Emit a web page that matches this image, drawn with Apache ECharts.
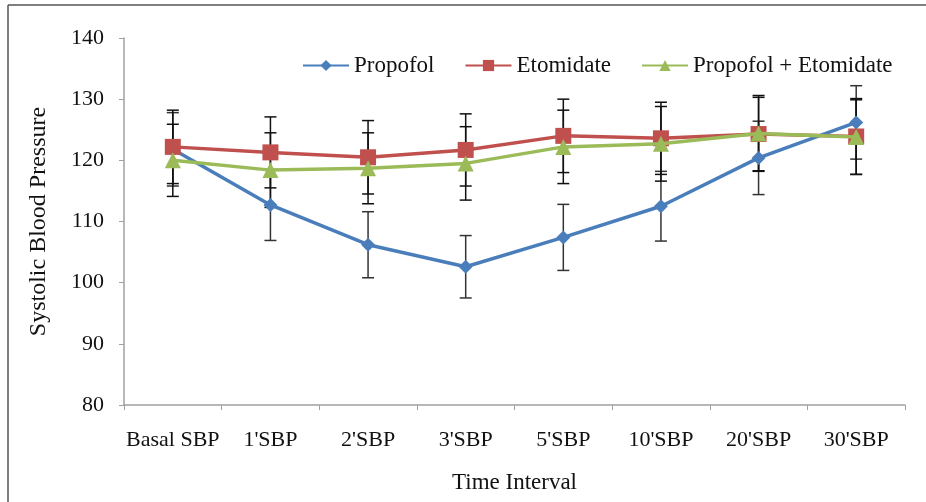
<!DOCTYPE html>
<html lang="en">
<head>
    <meta charset="UTF-8">
    <title>Systolic Blood Pressure</title>
    <script src="https://cdn.jsdelivr.net/npm/echarts@6/dist/echarts.min.js"></script>
    <style>
        html, body {
            margin: 0;
            padding: 0;
            background: #fff;
        }
        #chart {
            width: 926px;
            height: 502px;
        }
    </style>
</head>
<body>
<div id="chart"></div>
<script>
    const categories = ['Basal SBP', "1'SBP", "2'SBP", "3'SBP", "5'SBP", "10'SBP", "20'SBP", "30'SBP"];
    const yTicks = [80, 90, 100, 110, 120, 130, 140];

    const propofol = [121.8, 112.7, 106.2, 102.6, 107.4, 112.5, 120.4, 126.2];
    const propofolSd = [6.0, 5.8, 5.4, 5.1, 5.4, 5.7, 6.0, 6.0];
    const etomidate = [122.2, 121.3, 120.5, 121.7, 124.0, 123.6, 124.3, 123.9];
    const etomidateSd = [6.0, 5.8, 6.0, 5.9, 6.0, 5.9, 6.0, 6.2];
    const combo = [120.0, 118.4, 118.7, 119.5, 122.2, 122.7, 124.4, 123.8];
    const comboSd = [5.9, 6.1, 5.8, 6.0, 6.0, 6.1, 6.2, 6.1];

    const FONT = '"Liberation Serif", "DejaVu Serif", serif';

    (function () {
        drawChart();
    })();

    // [index, low, high] for the custom error bar series
    function barData(means, sds) {
        return means.map(function (m, i) {
            return [i, m - sds[i], m + sds[i]];
        });
    }

    function errorBars(name, means, sds, color) {
        return {
            name: name,
            type: 'custom',
            z: 1,
            silent: true,
            renderItem: function (params, api) {
                let low = api.coord([api.value(0), api.value(1)]);
                let high = api.coord([api.value(0), api.value(2)]);
                let half = 6;
                let style = {stroke: color, lineWidth: 1.5};
                return {
                    type: 'group',
                    children: [
                        {type: 'line', shape: {x1: high[0], y1: high[1], x2: low[0], y2: low[1]}, style: style},
                        {type: 'line', shape: {x1: high[0] - half, y1: high[1], x2: high[0] + half, y2: high[1]}, style: style},
                        {type: 'line', shape: {x1: low[0] - half, y1: low[1], x2: low[0] + half, y2: low[1]}, style: style}
                    ]
                };
            },
            encode: {x: 0, y: [1, 2]},
            data: barData(means, sds)
        };
    }

    function drawChart() {
        let myChart = echarts.init(document.getElementById('chart'));
        let option = {
            animation: false,
            color: ['#4A7EBB', '#C0504D', '#9BBB59'],
            textStyle: {fontFamily: FONT},
            graphic: [
                {type: 'line', shape: {x1: 8, y1: 5, x2: 926, y2: 5}, style: {stroke: '#555', lineWidth: 1.5}},
                {type: 'line', shape: {x1: 8, y1: 5, x2: 8, y2: 502}, style: {stroke: '#555', lineWidth: 1.5}}
            ],
            legend: {
                data: ['Propofol', 'Etomidate', 'Propofol + Etomidate'],
                left: 297,
                top: 49,
                itemWidth: 46,
                itemHeight: 14,
                itemGap: 30,
                textStyle: {
                    fontFamily: FONT,
                    fontSize: 23,
                    color: '#111'
                }
            },
            grid: {
                left: 124,
                right: 21,
                top: 38,
                bottom: 97
            },
            xAxis: {
                type: 'category',
                data: categories,
                boundaryGap: true,
                name: 'Time Interval',
                nameLocation: 'middle',
                nameGap: 66,
                nameTextStyle: {fontFamily: FONT, fontSize: 23, color: '#111'},
                axisLine: {lineStyle: {color: '#a0a0a0', width: 1.5}},
                axisTick: {show: true, length: 5, lineStyle: {color: '#a0a0a0'}},
                axisLabel: {
                    margin: 24,
                    fontFamily: FONT,
                    fontSize: 22,
                    color: '#111',
                    interval: 0
                }
            },
            yAxis: {
                type: 'value',
                min: yTicks[0],
                max: yTicks[yTicks.length - 1],
                interval: 10,
                name: 'Systolic Blood Pressure',
                nameLocation: 'middle',
                nameGap: 73,
                nameTextStyle: {fontFamily: FONT, fontSize: 24, color: '#111'},
                axisLine: {show: true, lineStyle: {color: '#a0a0a0', width: 1.5}},
                axisTick: {show: true, length: 5, lineStyle: {color: '#a0a0a0'}},
                splitLine: {show: false},
                axisLabel: {
                    margin: 20,
                    fontFamily: FONT,
                    fontSize: 22,
                    color: '#111'
                }
            },
            series: [
                errorBars('Propofol SD', propofol, propofolSd, '#333'),
                errorBars('Etomidate SD', etomidate, etomidateSd, '#111'),
                errorBars('Combo SD', combo, comboSd, '#111'),
                {
                    name: 'Propofol',
                    type: 'line',
                    z: 3,
                    data: propofol,
                    symbol: 'diamond',
                    symbolSize: 14,
                    lineStyle: {width: 3.5},
                    itemStyle: {color: '#4A7EBB'}
                },
                {
                    name: 'Etomidate',
                    type: 'line',
                    z: 4,
                    data: etomidate,
                    symbol: 'rect',
                    symbolSize: 16,
                    lineStyle: {width: 3.5},
                    itemStyle: {color: '#C0504D'}
                },
                {
                    name: 'Propofol + Etomidate',
                    type: 'line',
                    z: 5,
                    data: combo,
                    symbol: 'triangle',
                    symbolSize: 16,
                    lineStyle: {width: 3.5},
                    itemStyle: {color: '#9BBB59'}
                }
            ]
        };
        myChart.setOption(option);
    }
</script>
</body>
</html>
